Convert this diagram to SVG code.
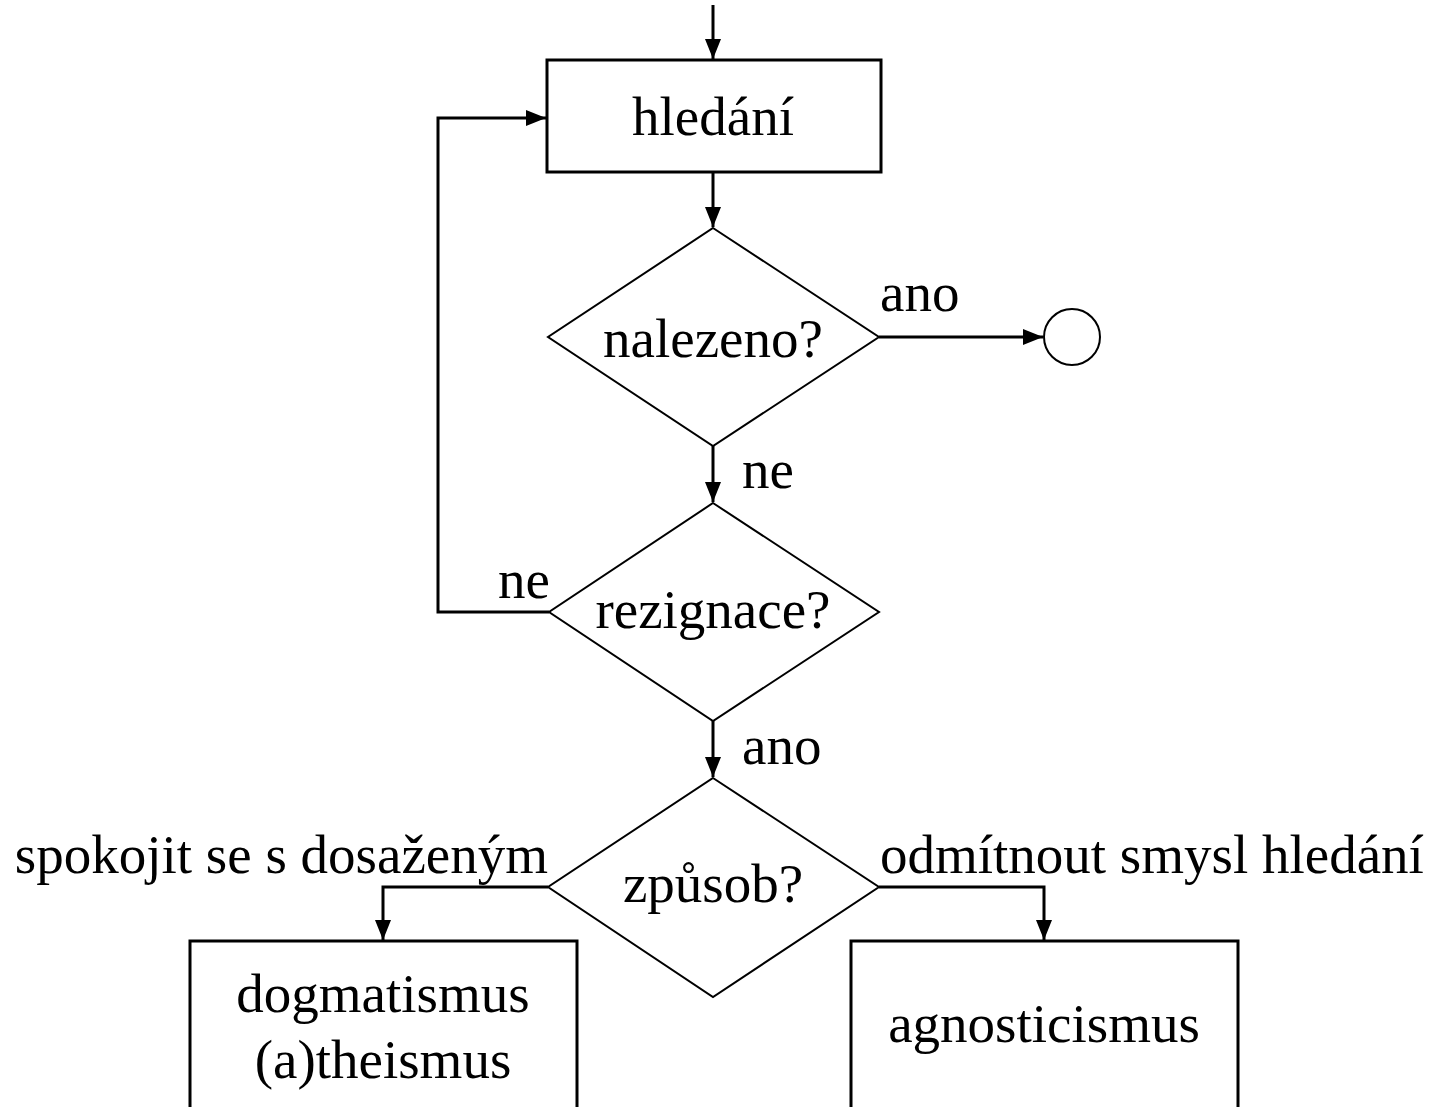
<svg xmlns="http://www.w3.org/2000/svg" width="1429" height="1107" viewBox="0 0 1429 1107">
<defs>
<marker id="ah" markerWidth="21" markerHeight="16" refX="20" refY="8" orient="auto" markerUnits="userSpaceOnUse">
<path d="M0,0 L20,8 L0,16 Z" fill="#000"/>
</marker>
<style>
.t{font-family:"Liberation Serif","Times New Roman",serif;font-size:55px;fill:#000}
.m{text-anchor:middle}
.box{fill:#fff;stroke:#000;stroke-width:3}
.dia{fill:#fff;stroke:#000;stroke-width:2}
.c{fill:none;stroke:#000;stroke-width:3}
</style>
</defs>
<rect width="1429" height="1107" fill="#fff"/>
<g id="connectors">
<path class="c" d="M713,5 V59" marker-end="url(#ah)"/>
<path class="c" d="M713,172 V227" marker-end="url(#ah)"/>
<path class="c" d="M879,337 H1043" marker-end="url(#ah)"/>
<path class="c" d="M713,446 V502" marker-end="url(#ah)"/>
<path class="c" d="M549,612 H438 V118 H546" marker-end="url(#ah)"/>
<path class="c" d="M713,721 V777" marker-end="url(#ah)"/>
<path class="c" d="M548,887 H383 V940" marker-end="url(#ah)"/>
<path class="c" d="M879,887 H1044 V940" marker-end="url(#ah)"/>
<text class="t" x="880" y="311">ano</text>
<text class="t" x="742" y="488">ne</text>
<text class="t" x="498" y="598">ne</text>
<text class="t" x="742" y="764">ano</text>
<text class="t" x="548" y="873" text-anchor="end">spokojit se s dosaženým</text>
<text class="t" x="880" y="873">odmítnout smysl hledání</text>
</g>
<g id="hledani">
<rect class="box" x="547" y="60" width="334" height="112"/>
<text class="t m" x="713" y="135">hledání</text>
</g>
<g id="nalezeno">
<polygon class="dia" points="713,228 879,337 713,446 548,337"/>
<text class="t m" x="713" y="357">nalezeno?</text>
</g>
<g id="end">
<circle cx="1072" cy="337" r="28" fill="#fff" stroke="#000" stroke-width="2"/>
</g>
<g id="rezignace">
<polygon class="dia" points="713,503 879,612 713,721 549,612"/>
<text class="t m" x="713" y="628">rezignace?</text>
</g>
<g id="zpusob">
<polygon class="dia" points="713,778 879,887 713,997 548,887"/>
<text class="t m" x="713" y="902">způsob?</text>
</g>
<g id="dogmatismus">
<rect class="box" x="190" y="941" width="387" height="200"/>
<text class="t m" x="383" y="1012">dogmatismus</text>
<text class="t m" x="383" y="1078">(a)theismus</text>
</g>
<g id="agnosticismus">
<rect class="box" x="851" y="941" width="387" height="200"/>
<text class="t m" x="1044" y="1042">agnosticismus</text>
</g>
</svg>
